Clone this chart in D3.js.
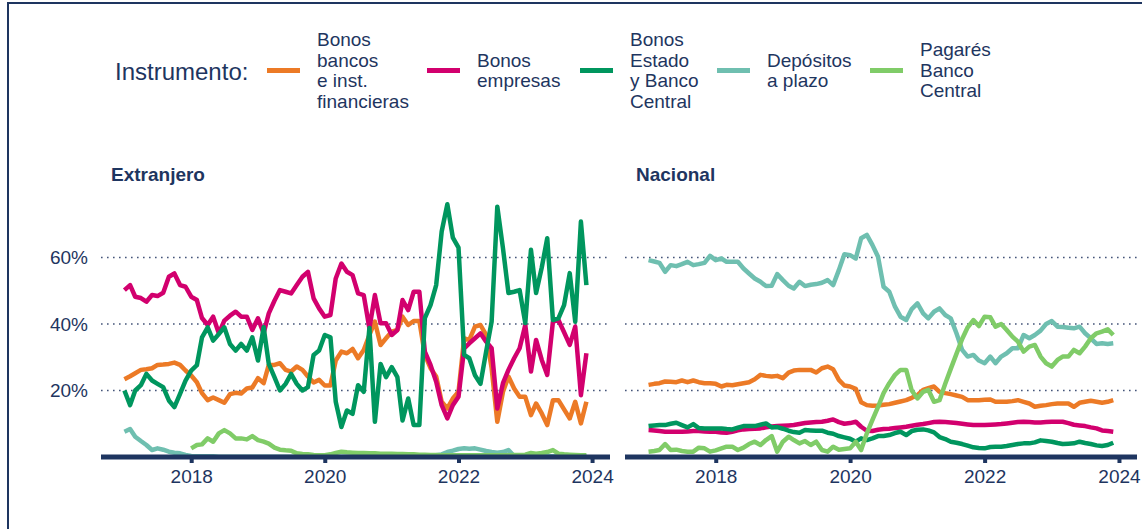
<!DOCTYPE html>
<html><head><meta charset="utf-8">
<script src="https://cdn.jsdelivr.net/npm/d3@7"></script>
<style>
html,body{margin:0;padding:0;background:#fff;}
svg{display:block;font-family:"Liberation Sans",Arial,Helvetica,sans-serif;}
</style></head>
<body><svg id="chart" width="1142" height="529"></svg>
<script>
// ---------- DATA ----------
const months = d3.timeMonth.range(new Date(2017, 0, 1), new Date(2024, 0, 1)); // Jan 2017 .. Dec 2023
const instruments = ["Bonos bancos e inst. financieras", "Bonos empresas", "Bonos Estado y Banco Central", "Depósitos a plazo", "Pagarés Banco Central"];
const legendLines = [["Bonos", "bancos", "e inst.", "financieras"], ["Bonos", "empresas"], ["Bonos", "Estado", "y Banco", "Central"], ["Depósitos", "a plazo"], ["Pagarés", "Banco", "Central"]];
const colors = ["#EC7A26", "#D2006E", "#00965E", "#6FBFB0", "#80CC68"];
const panelTitles = ["Extranjero", "Nacional"];
const yTicks = [20, 40, 60];
const yTickLabels = ["20%", "40%", "60%"];
const xTickYears = [2018, 2020, 2022, 2024];

// Extranjero
const extBancos = [
  23.4, 24.3, 25.2, 26.2, 26.4, 26.7, 27.7, 27.8, 28, 28.4, 27.7, 26,
  24.5, 22.5, 19.2, 17.1, 17.9, 17.1, 16.3, 18.9, 19.3, 19.1, 20.6, 20.9,
  23.7, 22.2, 27.7, 27.7, 28.2, 26.2, 25.7, 27.2, 26.2, 24.2, 22.4, 23.2,
  21.5, 21.5, 29, 31.7, 31.2, 32.5, 29.7, 32.2, 36.7, 40.7, 33.7, 35.7,
  37.7, 38.2, 42.2, 39.7, 40.9, 40.9, 30.7, 26.7, 24.2, 16.6, 14.6, 17.6,
  19.6, 35.7, 35.2, 39.2, 39.7, 36.7, 26.7, 10.6, 19.6, 24.2, 20.6, 18.1,
  18.1, 12.6, 16.1, 13.1, 9.6, 17.1, 17.1, 14.3, 11.6, 16.6, 10.1, 16.6];
const extEmpresas = [
  50.2, 51.7, 48.2, 47.8, 46.7, 48.7, 48.4, 49.4, 54.2, 55.2, 51.7, 51.2,
  48.2, 47.2, 41.8, 39.7, 42.2, 37.2, 41, 42.5, 43.7, 42.2, 42.2, 38.2,
  41.7, 37.2, 43.2, 47, 50.2, 49.7, 49.2, 51.7, 54.2, 55.7, 47.7, 44.7,
  42.2, 42.7, 53.7, 58.2, 55.7, 54.7, 49.2, 48.7, 38.7, 48.7, 40.2, 40.2,
  36.7, 38.2, 47.2, 44.2, 49.7, 49.7, 31.7, 27.7, 22.6, 15.6, 11.6, 15.6,
  18.1, 32.7, 34.2, 35.7, 37.2, 34.7, 32.7, 14.6, 22.2, 26.2, 29.7, 32.7,
  39.7, 25.7, 35.2, 29.2, 24.7, 40.7, 41.2, 37.5, 33.7, 39.2, 18.6, 31.2];
const extEstado = [
  20, 15.6, 20, 21.6, 25, 23, 22, 21, 17, 15, 19, 23,
  26, 27.6, 36, 39, 35, 37, 39, 34, 32, 34, 32, 36,
  29, 39, 28, 24, 20, 22, 25, 22, 20, 21, 30.7, 32,
  36.7, 36, 16.6, 9, 14, 13, 21.6, 19.6, 38.8, 10.6, 28, 24,
  27, 24, 11, 17.6, 9.6, 9.6, 41.8, 45.7, 51.7, 67.8, 76, 66,
  63, 30.7, 29.7, 24.6, 22, 31.7, 40.7, 75.3, 62.8, 49.3, 49.7, 50.2,
  40.3, 62.3, 49.3, 57, 65.8, 41.2, 41.7, 45.7, 55.3, 40.7, 70.8, 51.7];
const extDepositos = [
  7.6, 8.4, 6.1, 4.8, 3.6, 2.1, 2.6, 2.2, 1.6, 1.3, 1.1, 0.6,
  0.3, 0.2, 0.2, 0.2, 0.2, 0.1, 0.1, 0.1, 0.1, 0.1, 0.1, 0.1,
  0.1, 0.1, 0.1, 0.1, 0.1, 0.1, 0.1, 0.1, 0.1, 0.1, 0.1, 0.1,
  0.1, 0.1, 0.1, 0.1, 0.1, 0.1, 0.1, 0.1, 0.1, 0.1, 0.1, 0.1,
  0.2, 0.2, 0.2, 0.2, 0.3, 0.3, 0.3, 0.4, 0.5, 0.8, 1.5, 1.9,
  2.4, 2.6, 2.5, 2.6, 2.2, 1.8, 1.5, 1.3, 1.5, 2.1, 0.3, 0.2,
  0.2, 0.2, 0.2, 0.2, 0.2, 0.2, 0.2, 0.2, 0.2, 0.2, 0.2, 0.2];
const extPagares = [
  null, null, null, null, null, null, null, null, null, null, null, null,
  2.6, 3.6, 3.8, 5.6, 4.6, 7.1, 8.1, 7.1, 5.6, 5.6, 5.3, 6.3,
  5.1, 4.6, 4, 2.8, 2.2, 2, 1.9, 1.1, 0.9, 0.8, 0.6, 0.5,
  0.5, 0.8, 1.2, 1.6, 1.4, 1.3, 1.2, 1.2, 1.1, 1.1, 1, 1,
  1, 0.9, 0.9, 0.8, 0.8, 0.7, 0.7, 0.6, 0.6, 0.5, 0.5, 0.5,
  0.5, 0.5, 0.5, 0.5, 0.5, 0.5, 0.5, 0.5, 0.5, 0.5, 0.6, 0.6,
  0.7, 1.2, 1, 1.2, 1.5, 2.1, 1, 0.8, 0.7, 0.6, 0.5, 0.5];

// Nacional
const nacBancos = [
  21.7, 22, 22.2, 22.7, 22.6, 22.5, 23, 22.5, 23, 22.5, 22.2, 22.2,
  22, 21.2, 21.7, 21.6, 21.9, 22.2, 22.5, 23.4, 24.7, 24.4, 24.2, 24.4,
  23.7, 25.4, 26, 26.2, 26.2, 26.2, 25.4, 26.7, 27.2, 26.4, 23.2, 21.5,
  21.2, 20.5, 16.5, 15.6, 15.4, 15.5, 15.7, 15.9, 16.3, 16.7, 17.1, 17.8,
  18.6, 20.2, 20.7, 21.2, 19.6, 19.2, 18.9, 18.5, 18.1, 17.1, 17.1, 17.1,
  17.2, 17.3, 16.6, 16.6, 16.6, 16.8, 17.1, 16.6, 16.1, 15.1, 15.4, 15.6,
  15.9, 16.1, 16.1, 16.1, 15.1, 16.3, 16.6, 16.9, 16.6, 16.3, 16.6, 17.1];
const nacEmpresas = [
  8.1, 8, 7.8, 7.6, 7.6, 7.6, 7.6, 7.7, 7.8, 7.8, 7.7, 7.6,
  7.6, 7.4, 7.3, 7.6, 8, 8.3, 8.4, 8.5, 8.6, 8.9, 9.2, 9.3,
  9.4, 9.5, 9.6, 9.9, 10.2, 10.4, 10.5, 10.6, 10.9, 11.3, 10.5, 10,
  10.2, 10.6, 9.1, 7.9, 7.8, 8.2, 8.4, 8.5, 8.7, 8.9, 9.1, 9.4,
  9.7, 9.9, 10.2, 10.5, 10.6, 10.5, 10.4, 10.2, 10, 9.8, 9.6, 9.6,
  9.6, 9.7, 9.8, 9.9, 10.1, 10.3, 10.5, 10.6, 10.5, 10.4, 10.4, 10.5,
  10.6, 10.6, 10.6, 10.2, 9.7, 9.5, 9.3, 8.9, 8.6, 8, 7.8, 7.6];
const nacEstado = [
  9.3, 9.5, 9.6, 9.6, 10, 10.3, 9.6, 8.9, 9.9, 8.7, 8.6, 8.6,
  8.6, 8.6, 8.4, 8.3, 8.8, 9.3, 9.3, 9.3, 9.7, 10.1, 8.9, 9,
  8.5, 7.9, 7.5, 7.3, 8.1, 8, 7.9, 7.9, 7.3, 7, 6.3, 5.9,
  5.5, 4.6, 5.6, 5.1, 5.6, 6.3, 6.3, 6.6, 7.2, 7.6, 6.6, 7.8,
  8.2, 8.3, 8, 7.4, 6, 5.4, 4.6, 4.3, 3.9, 3.4, 2.9, 2.7,
  2.6, 3, 3.1, 3.1, 3.3, 3.6, 3.9, 4.1, 4.1, 4.4, 5, 4.8,
  4.6, 4.2, 3.9, 4, 4.1, 4.6, 4.2, 3.9, 3.5, 3.3, 3.6, 4.3];
const nacDepositos = [
  59.2, 58.8, 58.4, 55.7, 57.7, 57.4, 58, 58.7, 57.7, 58, 58.4, 60.5,
  59.2, 59.7, 58.7, 58.7, 58.7, 56.7, 55.2, 53.7, 52.7, 51.4, 51.5, 55,
  53.2, 51.5, 50.7, 52.7, 51.4, 51.8, 52, 52.4, 53.2, 51.7, 56.2, 61,
  60.7, 59.7, 65.8, 66.8, 63.8, 60.2, 51.2, 49.7, 45.2, 42.2, 41.2, 44.5,
  46.2, 43.2, 41.7, 43.7, 44.7, 42.7, 41.7, 37.2, 32.2, 30.2, 30.7, 29,
  28.2, 30.2, 28.2, 30.2, 31.2, 32.7, 32.7, 36.7, 35.7, 36.7, 38, 40,
  40.9, 39.2, 39.1, 38.9, 38.7, 39.2, 37.2, 35.7, 34, 34.2, 34, 34.2];
const nacPagares = [
  1.6, 1.8, 2.1, 3.9, 2.1, 2.2, 1.8, 1.6, 1.6, 2.8, 2.6, 1.6,
  2, 2.6, 3.1, 3.1, 2.1, 2.8, 3.9, 4.6, 3.6, 5.1, 6.3, 1.6,
  4.6, 6.1, 5.1, 4.1, 4.8, 3.6, 4.6, 2.1, 1.6, 3.1, 2.2, 2.4,
  2.6, 4.6, 2.1, 7.1, 11.1, 15.1, 19.2, 22.2, 24.7, 26.2, 26.2, 20,
  17.6, 19.6, 20.2, 16.6, 17.1, 22, 26.5, 31, 35.5, 39, 41.2, 39.4,
  42.2, 42, 39.2, 40, 38.2, 36.2, 34.7, 31.7, 33.2, 33.7, 30.2, 28.2,
  27.2, 29.2, 30.2, 30.2, 32.2, 31.2, 33.2, 35.7, 37.2, 37.7, 38.4, 36.7];

const extSeries = [extBancos, extEmpresas, extEstado, extDepositos, extPagares];
const nacSeries = [nacBancos, nacEmpresas, nacEstado, nacDepositos, nacPagares];

// ---------- DRAW ----------
const navy = "#1E3560";
const svg = d3.select("#chart");

// frame
svg.append("path").attr("d", "M8,529V3H1142").attr("fill", "none").attr("stroke", navy).attr("stroke-width", 2);

// legend
const legend = svg.append("g");
legend.append("text").attr("x", 115).attr("y", 79.5).attr("font-size", 24).attr("fill", navy).text("Instrumento:");
const swatchX = [267, 427, 580, 717, 870];
const lineH = 20.5;
instruments.forEach((name, k) => {
  legend.append("line").attr("x1", swatchX[k]).attr("x2", swatchX[k] + 33)
    .attr("y1", 70.5).attr("y2", 70.5).attr("stroke", colors[k]).attr("stroke-width", 5);
  const lines = legendLines[k];
  const t = legend.append("text").attr("font-size", 19).attr("fill", navy);
  lines.forEach((ln, j) => {
    t.append("tspan").attr("x", swatchX[k] + 50)
      .attr("y", 76.8 + (j - (lines.length - 1) / 2) * lineH).text(ln);
  });
});

const y = d3.scaleLinear().domain([0, 80]).range([457, 191]);
const xDomain = [new Date(2016, 7, 26), new Date(2024, 3, 8)];

const panels = [
  { title: panelTitles[0], x0: 101, x1: 610, titleX: 111, series: extSeries, yLabels: true },
  { title: panelTitles[1], x0: 625, x1: 1137, titleX: 636, series: nacSeries, yLabels: false }
];

panels.forEach(p => {
  const x = d3.scaleTime().domain(xDomain).range([p.x0, p.x1]);
  const g = svg.append("g");

  g.append("text").attr("x", p.titleX).attr("y", 181).attr("font-size", 19)
    .attr("font-weight", "bold").attr("fill", navy).text(p.title);

  // grid
  g.selectAll("line.grid").data(yTicks).join("line").attr("class", "grid")
    .attr("x1", p.x0).attr("x2", p.x1)
    .attr("y1", d => y(d)).attr("y2", d => y(d))
    .attr("stroke", "#45557a").attr("stroke-width", 1.6).attr("stroke-dasharray", "1.6,4.4");

  if (p.yLabels) {
    g.selectAll("text.ylab").data(yTicks).join("text").attr("class", "ylab")
      .attr("x", 88).attr("y", d => y(d)).attr("dy", "0.36em")
      .attr("text-anchor", "end").attr("font-size", 19).attr("fill", navy)
      .text((d, i) => yTickLabels[i]);
  }

  // lines
  const line = d3.line().defined(d => d.v != null)
    .x(d => x(d.date)).y(d => y(d.v));
  p.series.forEach((vals, k) => {
    const data = months.map((m, i) => ({ date: m, v: vals[i] }));
    g.append("path").datum(data).attr("d", line)
      .attr("fill", "none").attr("stroke", colors[k]).attr("stroke-width", 4.5)
      .attr("stroke-linejoin", "round");
  });

  // x axis
  const axis = d3.axisBottom(x)
    .tickValues(xTickYears.map(yr => new Date(yr, 0, 1)))
    .tickFormat(d3.timeFormat("%Y"))
    .tickSizeOuter(0).tickSizeInner(6).tickPadding(6.5);
  const ag = g.append("g").attr("transform", "translate(0,457)").call(axis);
  ag.select(".domain").attr("stroke", navy).attr("stroke-width", 5).attr("d", `M${p.x0},0H${p.x1}`);
  ag.selectAll(".tick line").attr("stroke", navy).attr("stroke-width", 4);
  ag.selectAll(".tick text").attr("font-size", 19).attr("fill", navy)
    .attr("font-family", "'Liberation Sans',Arial,sans-serif");
});
</script></body></html>
